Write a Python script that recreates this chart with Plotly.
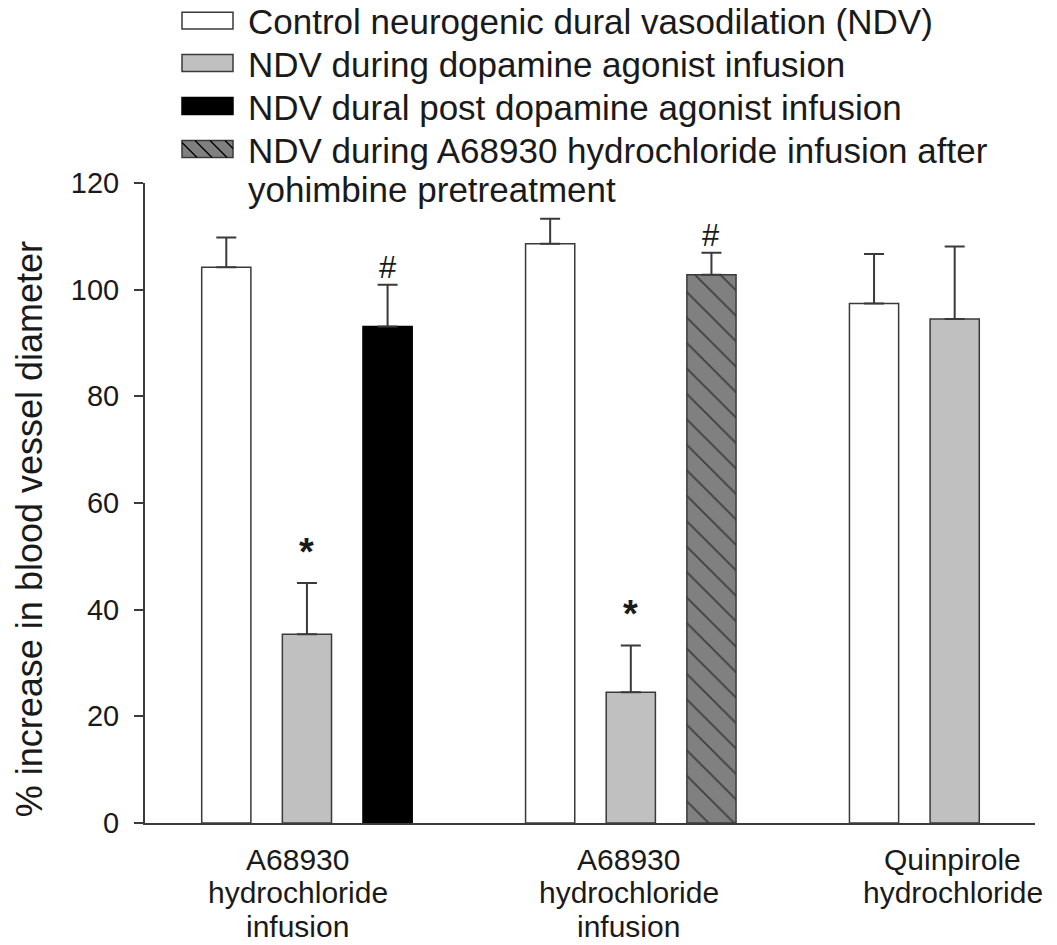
import plotly.graph_objects as go

# ---------------- data ----------------
group_x = [0, 1, 2]
category_lines = [
    ["A68930", "hydrochloride", "infusion"],
    ["A68930", "hydrochloride", "infusion"],
    ["Quinpirole", "hydrochloride"],
]

series_names = [
    "Control neurogenic dural vasodilation (NDV)",
    "NDV during dopamine agonist infusion",
    "NDV dural post dopamine agonist infusion",
    "NDV during A68930 hydrochloride infusion after",
]
legend_extra_line = "yohimbine pretreatment"

control_vals = [104.2, 108.6, 97.4]
control_err = [5.6, 4.7, 9.3]

during_vals = [35.4, 24.5, 94.5]
during_err = [9.6, 8.8, 13.6]

post_x = [0]
post_vals = [93.1]
post_err = [7.8]

yoh_x = [1]
yoh_vals = [102.8]
yoh_err = [4.1]

star_groups = [0, 1]      # "*" over the "during" bars
hash_groups_post = [0]    # "#" over post bars
hash_groups_yoh = [1]     # "#" over yohimbine bars

y_ticks = [0, 20, 40, 60, 80, 100, 120]

# ---------------- layout geometry (window pixels) ----------------
OFF = 0                      # page body margin removed by post_script
PLOT_L, PLOT_R = 145, 1035   # plot area in window px
PLOT_T, PLOT_B = 182.5, 823
W, H = 1057 - 2 * OFF, 945 - 2 * OFF
ML = PLOT_L - OFF
MT = PLOT_T - OFF
PW = PLOT_R - PLOT_L
PH = PLOT_B - PLOT_T
MR = W - ML - PW
MB = H - MT - PH
BARGAP, BARGROUPGAP = 0.253, 0.39
SLOT = (1 - BARGAP) / 3
FONT = "Arial, Liberation Sans, sans-serif"
INK = "#1a1a1a"
EDGE = "#3a3a3a"


def px2x(px):
    return (px - PLOT_L) / PW


def py2y(py):
    return (PLOT_B - py) / PH


def err_style(arr):
    return dict(type="data", array=arr, arrayminus=[0] * len(arr), symmetric=False,
                color=EDGE, thickness=2, width=10)


fig = go.Figure()
fig.add_trace(go.Bar(x=group_x, y=control_vals, offsetgroup="a", name=series_names[0],
                     marker=dict(color="white", line=dict(color=EDGE, width=1.5)),
                     error_y=err_style(control_err)))
fig.add_trace(go.Bar(x=group_x, y=during_vals, offsetgroup="b", name=series_names[1],
                     marker=dict(color="#c0c0c0", line=dict(color=EDGE, width=1.5)),
                     error_y=err_style(during_err)))
fig.add_trace(go.Bar(x=post_x, y=post_vals, offsetgroup="c", name=series_names[2],
                     marker=dict(color="black", line=dict(color="black", width=1.5)),
                     error_y=err_style(post_err)))
fig.add_trace(go.Bar(x=yoh_x, y=yoh_vals, offsetgroup="c", name=series_names[3],
                     marker=dict(color="#808080", line=dict(color=EDGE, width=1.5),
                                 pattern=dict(shape="\\", size=18, solidity=0.1,
                                              fgcolor="black", bgcolor="#808080",
                                              fillmode="overlay")),
                     error_y=err_style(yoh_err)))

annotations = []

# significance marks
for g in star_groups:
    annotations.append(dict(x=g, y=during_vals[g] + during_err[g], xref="x", yref="y",
                            text="<b>*</b>", showarrow=False, yanchor="middle", yshift=31,
                            font=dict(family=FONT, size=38, color=INK)))
for i, g in enumerate(hash_groups_post):
    annotations.append(dict(x=g + SLOT, y=post_vals[i] + post_err[i], xref="x", yref="y",
                            text="#", showarrow=False, yanchor="middle", yshift=17,
                            font=dict(family=FONT, size=31, color=INK)))
for i, g in enumerate(hash_groups_yoh):
    annotations.append(dict(x=g + SLOT, y=yoh_vals[i] + yoh_err[i], xref="x", yref="y",
                            text="#", showarrow=False, yanchor="middle", yshift=17,
                            font=dict(family=FONT, size=31, color=INK)))

# category labels (one annotation per line for tight line spacing)
label_xshift = [-9, -2, -2]
for g, lines in zip(group_x, category_lines):
    for j, line in enumerate(lines):
        annotations.append(dict(x=g, y=0, xref="x", yref="paper", text=line, showarrow=False,
                                yanchor="top", xanchor="center", xshift=label_xshift[g],
                                yshift=-18 - 33.3 * j,
                                font=dict(family=FONT, size=30, color=INK)))

# y-axis title
annotations.append(dict(x=px2x(29), y=py2y(529), xref="paper", yref="paper",
                        text="% increase in blood vessel diameter", textangle=-90,
                        showarrow=False, xanchor="center", yanchor="middle",
                        font=dict(family=FONT, size=36, color=INK)))

# legend (manual: wide swatches)
row_centers = [20, 62.5, 105.5, 148.5]
sw_left, sw_right, sw_h = 182, 233, 17
sw_fill = ["white", "#c0c0c0", "black", "#808080"]
sw_line = [EDGE, EDGE, "black", EDGE]
shapes = []
for k, name in enumerate(series_names):
    cy = row_centers[k]
    shapes.append(dict(type="rect", xref="paper", yref="paper",
                       x0=px2x(sw_left), x1=px2x(sw_right),
                       y0=py2y(cy + sw_h / 2), y1=py2y(cy - sw_h / 2),
                       fillcolor=sw_fill[k], line=dict(color=sw_line[k], width=1.5)))
    annotations.append(dict(x=px2x(246), y=py2y(cy + 1), xref="paper", yref="paper", text=name,
                            showarrow=False, xanchor="left", yanchor="middle",
                            font=dict(family=FONT, size=35, color=INK)))
annotations.append(dict(x=px2x(246), y=py2y(189.5), xref="paper", yref="paper",
                        text=legend_extra_line, showarrow=False, xanchor="left", yanchor="middle",
                        font=dict(family=FONT, size=35, color=INK)))

# hatch lines inside the last legend swatch
cy = row_centers[3]
top, bot = cy - sw_h / 2, cy + sw_h / 2
path = ""
c = sw_left - sw_h
while c < sw_right:
    xs, ys = c, top
    xe, ye = c + sw_h, bot
    if xs < sw_left:
        ys = top + (sw_left - xs)
        xs = sw_left
    if xe > sw_right:
        ye = top + (sw_right - c)
        xe = sw_right
    if xe > xs:
        path += f"M{px2x(xs)},{py2y(ys)} L{px2x(xe)},{py2y(ye)} "
    c += 15
shapes.append(dict(type="path", xref="paper", yref="paper", path=path.strip(),
                   line=dict(color="black", width=1.3)))

fig.update_layout(
    width=W, height=H,
    margin=dict(l=ML, r=MR, t=MT, b=MB, autoexpand=False),
    plot_bgcolor="white", paper_bgcolor="white",
    barmode="group", bargap=BARGAP, bargroupgap=BARGROUPGAP,
    showlegend=False,
    annotations=annotations, shapes=shapes,
    font=dict(family=FONT, color=INK),
)
fig.update_xaxes(range=[-0.5, 2.248], showline=True, linecolor=EDGE, linewidth=2,
                 showticklabels=False, ticks="", showgrid=False, zeroline=False)
fig.update_yaxes(range=[0, 120], tickvals=y_ticks, showline=True, linecolor=EDGE, linewidth=2,
                 ticks="outside", ticklen=9, tickwidth=2, tickcolor=EDGE,
                 ticklabelstandoff=9,
                 tickfont=dict(family=FONT, size=29, color=INK),
                 showgrid=False, zeroline=False)

fig.write_html("out.html",
               config={"displayModeBar": False},
               post_script="document.body.style.margin='0';document.body.style.overflow='hidden';")
